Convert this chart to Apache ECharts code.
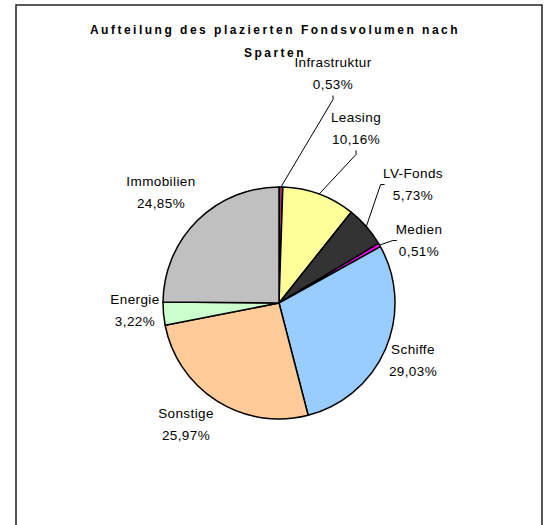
<!DOCTYPE html>
<html>
<head>
<meta charset="utf-8">
<script src="https://cdn.jsdelivr.net/npm/echarts@6/dist/echarts.min.js"></script>
<style>
  html, body { margin: 0; padding: 0; background: #fff; }
  #chart { width: 550px; height: 525px; }
  /* Excel-like loose letter spacing */
  #chart text { letter-spacing: 0.4px; }
  #chart text[style*="bold"], #chart text[font-weight="bold"] { letter-spacing: 2.5px; }
</style>
</head>
<body>
<div id="chart"></div>
<script>
// Sparten und Anteile (in %), im Uhrzeigersinn ab 12 Uhr
const sparten = ['Infrastruktur', 'Leasing', 'LV-Fonds', 'Medien', 'Schiffe', 'Sonstige', 'Energie', 'Immobilien']
const anteile = [0.53, 10.16, 5.73, 0.51, 29.03, 25.97, 3.22, 24.85]
const farben = ['#993366', '#FFFF99', '#333333', '#FF00FF', '#99CCFF', '#FFCC99', '#CCFFCC', '#C0C0C0']
const mitLinie = ['Infrastruktur', 'Leasing', 'LV-Fonds', 'Medien']

// where the labels sit (centre of the two-line block)
const labelPos = [
  [333, 73.5], [356, 128.5], [413, 184.5], [419, 240.5],
  [413, 360.5], [186, 424.5], [135, 310.5], [161, 192.5]
]

const dom = echarts.init(document.getElementById('chart'), null, { renderer: 'svg' })

const option = {
  animation: false,
  title: {
    text: 'Aufteilung des plazierten Fondsvolumen nach\nSparten',
    left: 'center',
    top: 18,
    padding: 0,
    textStyle: {
      fontFamily: 'Liberation Sans, Arial',
      fontSize: 12,
      fontWeight: 'bold',
      color: '#000',
      lineHeight: 23
    }
  },
  graphic: [
    {
      type: 'rect',
      shape: { x: 16, y: 5, width: 526, height: 600 },
      style: { fill: 'none', stroke: '#222', lineWidth: 1.5 },
      silent: true
    }
  ],
  series: [
    {
      type: 'pie',
      center: [279, 303],
      radius: 116,
      startAngle: 90,
      clockwise: true,
      avoidLabelOverlap: false,
      itemStyle: { borderColor: '#000', borderWidth: 1.5 },
      label: {
        position: 'outside',
        fontFamily: 'Liberation Sans, Arial',
        fontSize: 13.5,
        color: '#000',
        lineHeight: 22,
        formatter: function (p) {
          return p.name + '\n' + p.value.toFixed(2).replace('.', ',') + '%'
        }
      },
      labelLine: {
        length: 10,
        length2: 4,
        lineStyle: { color: '#000', width: 1 }
      },
      labelLayout: function (params) {
        const p = labelPos[params.dataIndex]
        return { x: p[0], y: p[1], align: 'center', verticalAlign: 'middle' }
      },
      data: sparten.map(function (name, i) {
        return {
          name: name,
          value: anteile[i],
          itemStyle: { color: farben[i] },
          labelLine: { show: mitLinie.indexOf(name) >= 0 }
        }
      })
    }
  ]
}

dom.setOption(option)
</script>
</body>
</html>
